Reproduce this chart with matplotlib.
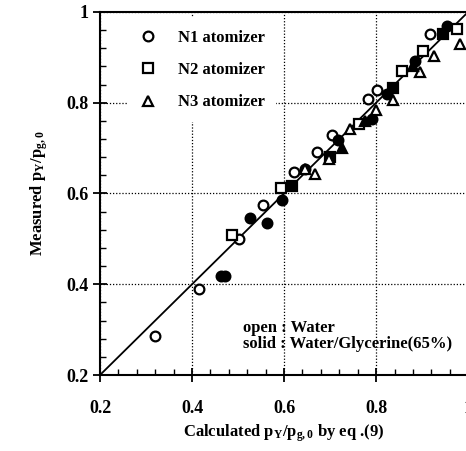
import numpy as np
import matplotlib.pyplot as plt
from matplotlib.ticker import MultipleLocator
from matplotlib.lines import Line2D

# N1 atomizer (circles)
n1_open_x = [0.32, 0.415, 0.503, 0.555, 0.622, 0.672, 0.704, 0.783, 0.802, 0.917]
n1_open_y = [0.285, 0.39, 0.50, 0.575, 0.647, 0.692, 0.728, 0.809, 0.827, 0.952]
n1_solid_x = [0.462, 0.472, 0.562, 0.525, 0.596, 0.646, 0.717, 0.79, 0.824, 0.885, 0.954]
n1_solid_y = [0.418, 0.418, 0.536, 0.545, 0.585, 0.654, 0.717, 0.765, 0.82, 0.893, 0.97]

# N2 atomizer (squares)
n2_open_x = [0.487, 0.593, 0.762, 0.857, 0.902, 0.976]
n2_open_y = [0.508, 0.612, 0.752, 0.87, 0.915, 0.963]
n2_solid_x = [0.617, 0.70, 0.837, 0.946]
n2_solid_y = [0.617, 0.68, 0.832, 0.952]

# N3 atomizer (triangles)
n3_open_x = [0.667, 0.646, 0.698, 0.743, 0.80, 0.837, 0.896, 0.925, 0.983]
n3_open_y = [0.644, 0.655, 0.677, 0.743, 0.783, 0.805, 0.867, 0.904, 0.93]
n3_solid_x = [0.725, 0.775, 0.88]
n3_solid_y = [0.70, 0.76, 0.88]

line_x = [0.2, 1.0]
line_y = [0.2, 1.0]


def main():
    plt.rcParams['font.family'] = ['Liberation Serif', 'DejaVu Serif']
    plt.rcParams['font.weight'] = 'bold'
    plt.rcParams['mathtext.fontset'] = 'custom'
    plt.rcParams['mathtext.rm'] = 'Liberation Serif:bold'
    plt.rcParams['mathtext.it'] = 'Liberation Serif:bold'
    plt.rcParams['mathtext.bf'] = 'Liberation Serif:bold'

    fig = plt.figure(figsize=(4.66, 4.51), dpi=100)
    ax = fig.add_axes([0.2146, 0.1685, 0.79, 0.805])

    ax.plot(line_x, line_y, "k-", lw=1.3, zorder=2)

    ms = 7
    kw = dict(ls="none", mec="k", mew=1.6, ms=ms, zorder=3)
    ax.plot(n1_open_x, n1_open_y, marker="o", mfc="white", **kw)
    ax.plot(n1_solid_x, n1_solid_y, marker="o", mfc="k", **kw)
    ax.plot(n2_open_x, n2_open_y, marker="s", mfc="white", **kw)
    ax.plot(n2_solid_x, n2_solid_y, marker="s", mfc="k", **kw)
    ax.plot(n3_open_x, n3_open_y, marker="^", mfc="white", **kw)
    ax.plot(n3_solid_x, n3_solid_y, marker="^", mfc="k", **kw)

    ax.set_xlim(0.2, 1.0)
    ax.set_ylim(0.2, 1.0)
    ax.set_xticks([0.2, 0.4, 0.6, 0.8, 1.0])
    ax.set_yticks([0.2, 0.4, 0.6, 0.8, 1.0])
    ax.set_xticklabels(["0.2", "0.4", "0.6", "0.8", "1"])
    ax.set_yticklabels(["0.2", "0.4", "0.6", "0.8", "1"])
    ax.xaxis.set_minor_locator(MultipleLocator(0.04))
    ax.yaxis.set_minor_locator(MultipleLocator(0.04))
    ax.tick_params(which="major", direction="inout", length=10, width=1.3,
                   labelsize=13, pad=13)
    ax.tick_params(which="minor", direction="in", length=4, width=1.0)
    ax.tick_params(axis="y", pad=3)
    ax.grid(True, which="major", ls=(0, (1, 1.5)), color="k", lw=0.9)
    for s in ax.spines.values():
        s.set_linewidth(1.5)

    ax.set_xlabel(r"Calculated p$_\mathbf{Y}$/p$_\mathbf{g,0}$ by eq .(9)",
                  fontsize=12, fontweight="bold", labelpad=4)
    ax.set_ylabel(r"Measured p$_\mathbf{Y}$/p$_\mathbf{g,0}$",
                  fontsize=12, fontweight="bold", labelpad=12)

    handles = [
        Line2D([], [], ls="none", marker="o", mfc="white", mec="k", mew=1.6, ms=ms),
        Line2D([], [], ls="none", marker="s", mfc="white", mec="k", mew=1.6, ms=ms),
        Line2D([], [], ls="none", marker="^", mfc="white", mec="k", mew=1.6, ms=ms),
    ]
    leg = ax.legend(handles, ["N1 atomizer", "N2 atomizer", "N3 atomizer"],
                    loc="upper left", bbox_to_anchor=(0.075, 0.983),
                    frameon=True, fontsize=12, labelspacing=0.98,
                    handletextpad=1.3, handlelength=1.0, borderpad=0.7,
                    borderaxespad=0.0, fancybox=False)
    leg.get_frame().set_facecolor("white")
    leg.get_frame().set_edgecolor("none")
    leg.get_frame().set_alpha(1.0)

    ax.text(0.511, 0.322, "open : Water\nsolid : Water/Glycerine(65%)",
            fontsize=12, ha="left", va="top", linespacing=1.05)

    fig.savefig("out.png", dpi=100)


if __name__ == "__main__":
    main()
